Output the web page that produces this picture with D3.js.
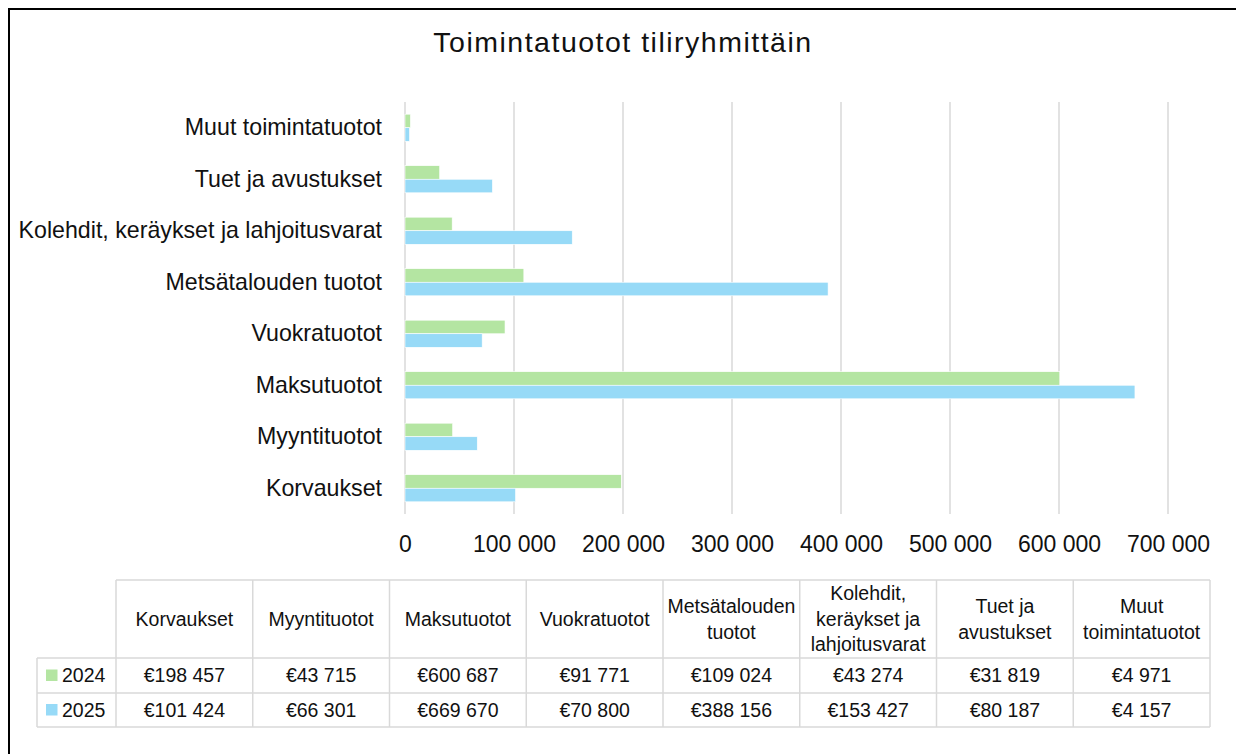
<!DOCTYPE html>
<html>
<head>
<meta charset="utf-8">
<script src="https://cdn.jsdelivr.net/npm/d3@7/dist/d3.min.js"></script>
<style>
  html, body { margin: 0; padding: 0; background: #fff; }
  svg { display: block; font-family: "Liberation Sans", Arial, sans-serif; }
</style>
</head>
<body>
<svg id="chart" width="1236" height="754"></svg>
<script>
const title = "Toimintatuotot tiliryhmittäin";
const categories = ["Korvaukset", "Myyntituotot", "Maksutuotot", "Vuokratuotot",
  "Metsätalouden tuotot", "Kolehdit, keräykset ja lahjoitusvarat", "Tuet ja avustukset", "Muut toimintatuotot"];
const headerLines = [["Korvaukset"], ["Myyntituotot"], ["Maksutuotot"], ["Vuokratuotot"],
  ["Metsätalouden", "tuotot"], ["Kolehdit,", "keräykset ja", "lahjoitusvarat"], ["Tuet ja", "avustukset"], ["Muut", "toimintatuotot"]];
const seriesNames = ["2024", "2025"];
const values2024 = [198457, 43715, 600687, 91771, 109024, 43274, 31819, 4971];
const values2025 = [101424, 66301, 669670, 70800, 388156, 153427, 80187, 4157];
const xTicks = [0, 100000, 200000, 300000, 400000, 500000, 600000, 700000];
const colors = ["#b4e5a2", "#97daf7"];

const series = [values2024, values2025];
const locale = d3.formatLocale({ decimal: ",", thousands: " ", grouping: [3], currency: ["€", ""] });
const fmtNum = locale.format(",.0f");
const fmtCur = locale.format("$,.0f");

const svg = d3.select("#chart");
const FONT = "'Liberation Sans', Arial, sans-serif";

// outer border
svg.append("rect").attr("x", 9).attr("y", 9).attr("width", 1240).attr("height", 770)
  .attr("fill", "#fff").attr("stroke", "#000").attr("stroke-width", 2);

// title
svg.append("text").attr("x", 623).attr("y", 52).attr("text-anchor", "middle")
  .attr("font-size", 28.5).attr("letter-spacing", 1.5).attr("fill", "#111").text(title);

// scales
const x = d3.scaleLinear().domain([0, 700000]).range([405, 1168]);
const y0 = d3.scaleBand().domain(categories.slice().reverse()).range([102, 514]).padding(0);
const y1 = d3.scaleBand().domain(seriesNames).range([0, y0.bandwidth()]).paddingInner(0).paddingOuter(0.9);

// gridlines
svg.append("g").selectAll("line").data(xTicks).join("line")
  .attr("x1", d => x(d)).attr("x2", d => x(d))
  .attr("y1", 102).attr("y2", 514)
  .attr("stroke", "#d9d9d9").attr("stroke-width", 1.5);

// x axis labels
const xAxis = d3.axisBottom(x).tickValues(xTicks).tickFormat(fmtNum).tickSize(0).tickPadding(0);
const gx = svg.append("g").attr("transform", "translate(0,536)").call(xAxis);
gx.select(".domain").remove();
gx.selectAll("text").attr("font-size", 23).attr("font-family", FONT).attr("fill", "#111").attr("dy", "0.71em");

// bars
const groups = svg.append("g").selectAll("g").data(categories).join("g")
  .attr("transform", d => `translate(0,${y0(d)})`);
groups.selectAll("rect").data((d, i) => seriesNames.map((s, k) => ({ s, k, v: series[k][i] }))).join("rect")
  .attr("x", x(0)).attr("y", d => y1(d.s))
  .attr("width", d => x(d.v) - x(0)).attr("height", y1.bandwidth())
  .attr("fill", d => colors[d.k]).attr("stroke", "#fff").attr("stroke-width", 0.6);

// category labels
const yAxis = d3.axisLeft(y0).tickSize(0).tickPadding(0);
const gy = svg.append("g").attr("transform", "translate(382,0)").call(yAxis);
gy.select(".domain").remove();
gy.selectAll("text").attr("font-size", 23.2).attr("font-family", FONT).attr("fill", "#111");

// data table
const colX = d3.scaleBand().domain(categories).range([116, 1210]);
const tableLeft = 37, headTop = 580, headBot = 658, rowBot = [693, 727];
const grid = "#d9d9d9";
const tg = svg.append("g");
// horizontal lines
tg.append("line").attr("x1", 116).attr("x2", 1210).attr("y1", headTop).attr("y2", headTop).attr("stroke", grid).attr("stroke-width", 1.5);
[headBot, ...rowBot].forEach(yy => tg.append("line").attr("x1", tableLeft).attr("x2", 1210).attr("y1", yy).attr("y2", yy).attr("stroke", grid).attr("stroke-width", 1.5));
// vertical lines
tg.append("line").attr("x1", tableLeft).attr("x2", tableLeft).attr("y1", headBot).attr("y2", rowBot[1]).attr("stroke", grid).attr("stroke-width", 1.5);
tg.selectAll("line.v").data(categories.concat(["end"])).join("line").attr("class", "v")
  .attr("x1", (d, i) => 116 + i * colX.bandwidth()).attr("x2", (d, i) => 116 + i * colX.bandwidth())
  .attr("y1", headTop).attr("y2", rowBot[1]).attr("stroke", grid).attr("stroke-width", 1.5);

// header text
const lineH = 25.5;
tg.selectAll("text.h").data(categories).join("text").attr("class", "h")
  .attr("text-anchor", "middle").attr("font-size", 19.5).attr("fill", "#111")
  .attr("transform", d => `translate(${colX(d) + colX.bandwidth() / 2},${(headTop + headBot) / 2})`)
  .each(function (d, i) {
    const lines = headerLines[i];
    const t = d3.select(this);
    lines.forEach((ln, j) => {
      t.append("tspan").attr("x", 0).attr("y", (j - (lines.length - 1) / 2) * lineH).attr("dy", "0.35em").text(ln);
    });
  });

// data rows
seriesNames.forEach((s, k) => {
  const top = k === 0 ? headBot : rowBot[0];
  const bot = rowBot[k];
  const cy = (top + bot) / 2;
  tg.append("rect").attr("x", 46).attr("y", cy - 6).attr("width", 11.5).attr("height", 11.5).attr("fill", colors[k]);
  tg.append("text").attr("x", 62).attr("y", cy).attr("dy", "0.35em").attr("font-size", 19.5).attr("fill", "#111").text(s);
  tg.selectAll(null).data(categories).join("text")
    .attr("x", d => colX(d) + colX.bandwidth() / 2).attr("y", cy).attr("dy", "0.35em")
    .attr("text-anchor", "middle").attr("font-size", 19.5).attr("fill", "#111")
    .text((d, i) => fmtCur(series[k][i]));
});
</script>
</body>
</html>
